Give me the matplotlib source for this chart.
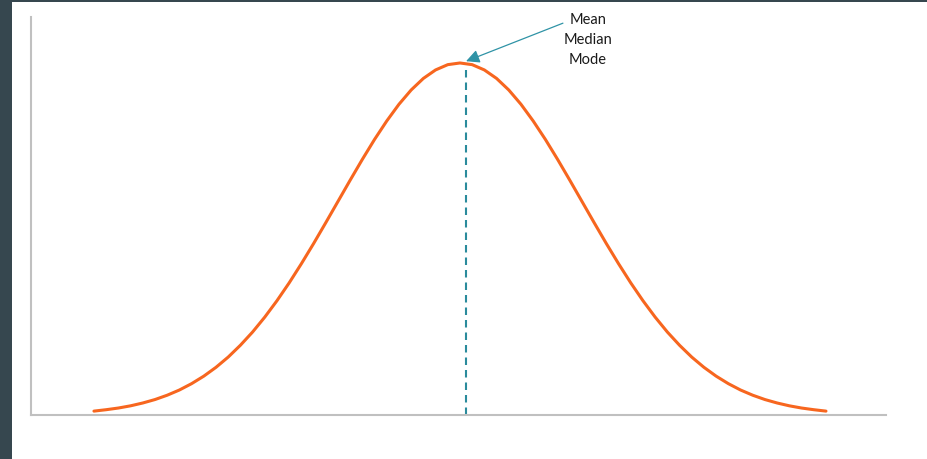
import numpy as np
import matplotlib.pyplot as plt
from matplotlib.patches import Rectangle

# bell curve: x in standard deviations from the peak, y = density
x_vals = [-3.0, -2.9, -2.8, -2.7, -2.6, -2.5, -2.4, -2.3, -2.2, -2.1,
          -2.0, -1.9, -1.8, -1.7, -1.6, -1.5, -1.4, -1.3, -1.2, -1.1,
          -1.0, -0.9, -0.8, -0.7, -0.6, -0.5, -0.4, -0.3, -0.2, -0.1,
          0.0, 0.1, 0.2, 0.3, 0.4, 0.5, 0.6, 0.7, 0.8, 0.9,
          1.0, 1.1, 1.2, 1.3, 1.4, 1.5, 1.6, 1.7, 1.8, 1.9,
          2.0, 2.1, 2.2, 2.3, 2.4, 2.5, 2.6, 2.7, 2.8, 2.9, 3.0]
density = [0.0044, 0.0060, 0.0079, 0.0104, 0.0136, 0.0175, 0.0224, 0.0283, 0.0355, 0.0440,
           0.0540, 0.0656, 0.0790, 0.0940, 0.1109, 0.1295, 0.1497, 0.1714, 0.1942, 0.2179,
           0.2420, 0.2661, 0.2897, 0.3123, 0.3332, 0.3521, 0.3683, 0.3814, 0.3910, 0.3970,
           0.3989, 0.3970, 0.3910, 0.3814, 0.3683, 0.3521, 0.3332, 0.3123, 0.2897, 0.2661,
           0.2420, 0.2179, 0.1942, 0.1714, 0.1497, 0.1295, 0.1109, 0.0940, 0.0790, 0.0656,
           0.0540, 0.0440, 0.0355, 0.0283, 0.0224, 0.0175, 0.0136, 0.0104, 0.0079, 0.0060, 0.0044]
mean_x = 0.05   # the dashed marker sits a touch right of the peak
label = "Mean\nMedian\nMode"

fig = plt.figure(figsize=(9.28, 4.6), dpi=100, facecolor='#36474f')
# white page inside the dark frame
fig.patches.append(Rectangle((12 / 928, 0), 1, 457 / 460, transform=fig.transFigure,
                             facecolor='white', edgecolor='none', zorder=-10))

ax = fig.add_axes([31 / 928, 44 / 460, 855 / 928, 398 / 460])
ax.set_facecolor('none')
ax.plot(x_vals, density, color='#f7661f', lw=2.2, solid_capstyle='round',
        solid_joinstyle='round', zorder=3)

peak = max(density)
ax.vlines(mean_x, 0, peak, colors='#2a8b9c', linestyles=(0, (3.6, 2.4)), lw=1.5, zorder=2)

ax.annotate('', xy=(mean_x, peak + 0.002), xytext=(0.844, 0.444),
            arrowprops=dict(arrowstyle='-|>,head_length=0.8,head_width=0.4',
                            color='#2f93a6', lw=0.9, shrinkA=0, shrinkB=0))
ax.text(1.049, 0.426, label, ha='center', va='center', fontsize=10.5,
        family='Lato', color='#1a1a1a', linespacing=1.55)

ax.set_xlim(-3.516, 3.492)
ax.set_ylim(0, 0.451)
ax.set_xticks([])
ax.set_yticks([])
for side in ['top', 'right']:
    ax.spines[side].set_visible(False)
for side in ['left', 'bottom']:
    ax.spines[side].set_color('#c0c0c0')
    ax.spines[side].set_linewidth(1.5)

fig.savefig('out.png', dpi=100, facecolor=fig.get_facecolor())
